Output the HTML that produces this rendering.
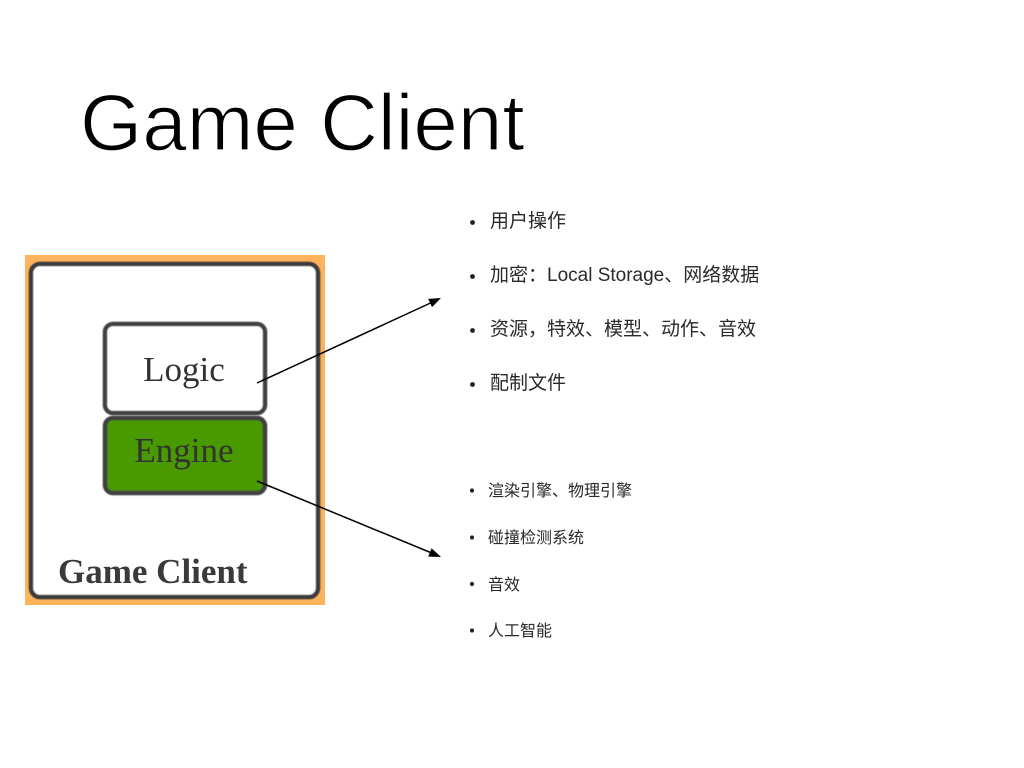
<!DOCTYPE html>
<html>
<head>
<meta charset="utf-8">
<style>
  html, body { margin: 0; padding: 0; background: #fff; }
  body { width: 1024px; height: 768px; overflow: hidden; }
  svg { display: block; }
  .cn { font-family: "Liberation Sans", "Noto Sans CJK SC", sans-serif; fill: #2a2a2a; }
</style>
</head>
<body>
<svg width="1024" height="768" viewBox="0 0 1024 768" xmlns="http://www.w3.org/2000/svg">
  <defs>
    <filter id="soft" x="-5%" y="-5%" width="110%" height="110%">
      <feGaussianBlur stdDeviation="0.6"/>
    </filter>
  </defs>
  <rect width="1024" height="768" fill="#ffffff"/>

  <!-- Title -->
  <text x="80" y="150" font-family="'Liberation Sans', sans-serif" font-size="80" fill="#000" stroke="#fff" stroke-width="1.3">Game Client</text>

  <!-- Diagram image -->
  <rect x="25" y="255" width="300" height="350" fill="#fdb25c"/>
  <rect x="31" y="264" width="287" height="333" rx="9" ry="9" fill="#fff" stroke="#3a3a3a" stroke-width="4.5" filter="url(#soft)"/>
  <rect x="105" y="324" width="160" height="89" rx="8" ry="8" fill="#fff" stroke="#3f3f3f" stroke-width="4.5" filter="url(#soft)"/>
  <rect x="105" y="418" width="160" height="75" rx="8" ry="8" fill="#4a9900" stroke="#3f3f3f" stroke-width="4.5" filter="url(#soft)"/>
  <text x="184" y="381" text-anchor="middle" font-family="'Liberation Serif', serif" font-size="35" fill="#333">Logic</text>
  <text x="184" y="462" text-anchor="middle" font-family="'Liberation Serif', serif" font-size="35" fill="#333">Engine</text>
  <text x="58" y="583" font-family="'Liberation Serif', serif" font-weight="bold" font-size="35" fill="#3a3a3a">Game Client</text>

  <!-- Connectors -->
  <line x1="257" y1="383" x2="430.5" y2="303" stroke="#000" stroke-width="1.5"/>
  <polygon points="441,298 432.0,307.1 428.2,298.9" fill="#000"/>
  <line x1="257" y1="481" x2="430.5" y2="552.5" stroke="#000" stroke-width="1.5"/>
  <polygon points="441,557 428.2,556.6 431.6,548.3" fill="#000"/>

  <!-- Upper bullet list -->
  <circle cx="472.5" cy="222.5" r="2.4" fill="#222"/>
  <text class="cn" x="490" y="227" font-size="19">用户操作</text>
  <circle cx="472.5" cy="276.5" r="2.4" fill="#222"/>
  <text class="cn" x="490" y="281" font-size="19">加密：Local Storage、网络数据</text>
  <circle cx="472.5" cy="330.5" r="2.4" fill="#222"/>
  <text class="cn" x="490" y="335" font-size="19">资源，特效、模型、动作、音效</text>
  <circle cx="472.5" cy="384.5" r="2.4" fill="#222"/>
  <text class="cn" x="490" y="389" font-size="19">配制文件</text>

  <!-- Lower bullet list -->
  <circle cx="472" cy="490.5" r="2.1" fill="#222"/>
  <text class="cn" x="488" y="496" font-size="16">渲染引擎、物理引擎</text>
  <circle cx="472" cy="537.5" r="2.1" fill="#222"/>
  <text class="cn" x="488" y="543" font-size="16">碰撞检测系统</text>
  <circle cx="472" cy="584" r="2.1" fill="#222"/>
  <text class="cn" x="488" y="590" font-size="16">音效</text>
  <circle cx="472" cy="630.5" r="2.1" fill="#222"/>
  <text class="cn" x="488" y="636" font-size="16">人工智能</text>
</svg>
</body>
</html>
